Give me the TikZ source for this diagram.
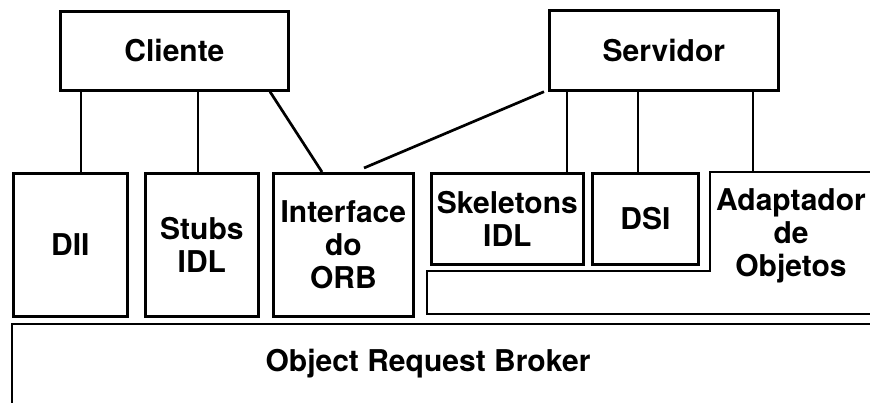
\documentclass[tikz,border=0pt]{standalone}
\usepackage{fontspec}
\setmainfont{TeX Gyre Heros}
\begin{document}
\begin{tikzpicture}[x=1pt,y=-1pt,line width=2.7pt,line join=miter,
  lbl/.style={font=\fontsize{30}{33}\selectfont\bfseries,align=center,inner sep=0pt},
  box/.style={draw,lbl,anchor=north west}]
\useasboundingbox (0,0) rectangle (870,403);

% top level
\node[box,minimum width=228pt,minimum height=79pt] (cli) at (59,10) {Cliente};
\node[box,minimum width=229pt,minimum height=80pt] (srv) at (548,9) {Servidor};

% client side components
\node[box,minimum width=114pt,minimum height=143pt] (dii) at (12,172) {DII};
\node[box,minimum width=113pt,minimum height=143pt] (stubs) at (144,172) {Stubs\\IDL};
\node[box,minimum width=140pt,minimum height=143pt] (iface) at (272,172) {Interface\\do\\ORB};

% server side components
\node[box,minimum width=152pt,minimum height=91pt] (skel) at (430,172) {Skeletons\\IDL};
\node[box,minimum width=106pt,minimum height=91pt] (dsi) at (591,172) {DSI};

% object adapter (L-shaped outline, open to the right)
\coordinate (a1) at (875,172);
\coordinate (a2) at (710,172);
\coordinate (a3) at (710,271);
\coordinate (a4) at (427,271);
\coordinate (a5) at (427,314);
\coordinate (a6) at (875,314);
\draw (a1) -- (a2) -- (a3) -- (a4) -- (a5) -- (a6);
\node[lbl] (adapt) at (791,236) {Adaptador\\de\\Objetos};

% ORB bus (open to the right and bottom)
\coordinate (o1) at (875,324);
\coordinate (o2) at (12,324);
\coordinate (o3) at (12,410);
\draw (o1) -- (o2) -- (o3);
\node[lbl] (orb) at (428,364) {Object Request Broker};

% client connectors
\draw ([xshift=22pt]cli.south west) -- ([xshift=69pt]dii.north west);
\draw ([xshift=139pt]cli.south west) -- ([xshift=54pt]stubs.north west);
\draw ([xshift=211pt]cli.south west) -- ([xshift=50pt]iface.north west);

% server connectors
\draw ([xshift=-4pt]srv.south west) -- ([xshift=92pt,yshift=4pt]iface.north west);
\draw ([xshift=19pt]srv.south west) -- ([xshift=137pt]skel.north west);
\draw ([xshift=90pt]srv.south west) -- ([xshift=47pt]dsi.north west);
\draw ([xshift=205pt]srv.south west) -- ([xshift=43pt]a2);
\end{tikzpicture}
\end{document}
